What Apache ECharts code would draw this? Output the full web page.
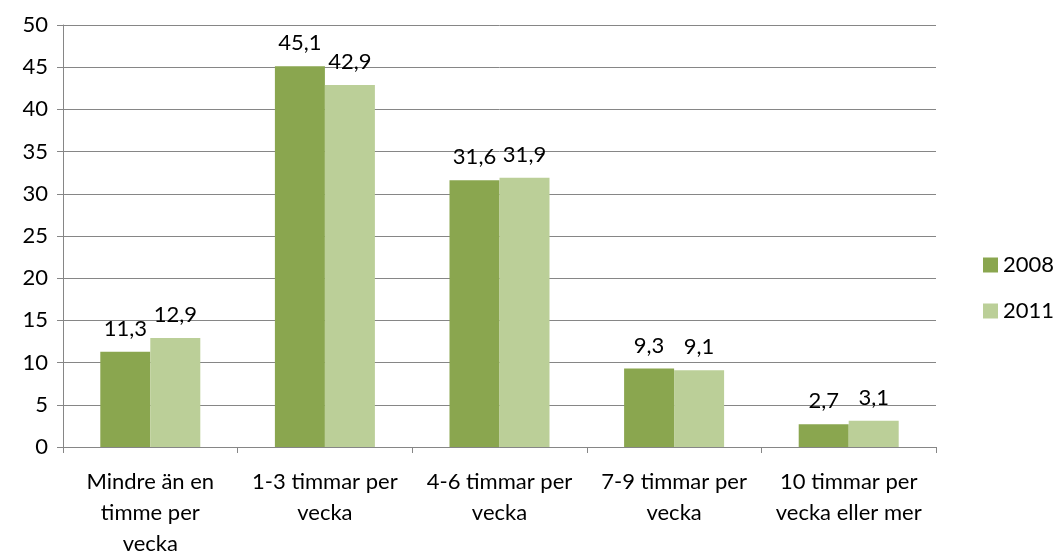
<!DOCTYPE html>
<html>
<head>
<meta charset="utf-8">
<script src="https://cdn.jsdelivr.net/npm/echarts@6/dist/echarts.min.js"></script>
<style>
  html, body { margin: 0; padding: 0; background: #fff; }
  #chart { width: 1054px; height: 553px; }
</style>
</head>
<body>
<div id="chart"></div>
<script>
// Timmar per vecka, andel (%) 2008 och 2011
const categories = [
  'Mindre än en\ntimme per\nvecka',
  '1-3 timmar per\nvecka',
  '4-6 timmar per\nvecka',
  '7-9 timmar per\nvecka',
  '10 timmar per\nvecka eller mer'
];
const values2008 = [11.3, 45.1, 31.6, 9.3, 2.7];
const values2011 = [12.9, 42.9, 31.9, 9.1, 3.1];
const seriesNames = ['2008', '2011'];

const fontFamily = 'Lato, Open Sans, sans-serif';
const fontSize = 22;
const fmt = p => String(p.value).replace('.', ',');

const chart = echarts.init(document.getElementById('chart'));
chart.setOption({
  animation: false,
  textStyle: { fontFamily: fontFamily },
  grid: { left: 63, right: 118, top: 25, bottom: 106, containLabel: false, outerBoundsMode: 'none' },
  legend: {
    orient: 'vertical',
    left: 978,
    top: 249,
    itemWidth: 15,
    itemHeight: 15,
    itemGap: 24,
    icon: 'rect',
    textStyle: { fontSize: fontSize, color: '#000', fontFamily: fontFamily },
    data: seriesNames
  },
  xAxis: {
    type: 'category',
    data: categories,
    axisLine: { lineStyle: { color: '#868686', width: 1 } },
    axisTick: { show: true, length: 6, lineStyle: { color: '#868686' } },
    axisLabel: {
      interval: 0,
      color: '#000',
      fontSize: fontSize,
      lineHeight: 31,
      margin: 19,
      fontFamily: fontFamily
    }
  },
  yAxis: {
    type: 'value',
    min: 0,
    max: 50,
    interval: 5,
    axisLine: { show: true, lineStyle: { color: '#868686' } },
    axisTick: { show: true, length: 6, lineStyle: { color: '#868686' } },
    splitLine: { lineStyle: { color: '#868686', width: 1 } },
    axisLabel: { color: '#000', fontSize: fontSize, margin: 15, fontFamily: fontFamily }
  },
  series: [
    {
      name: seriesNames[0],
      type: 'bar',
      data: values2008,
      barWidth: 50,
      barGap: '0%',
      itemStyle: { color: '#8AA64F' },
      label: { show: true, position: 'top', distance: 12, fontSize: fontSize, color: '#000', formatter: fmt, fontFamily: fontFamily }
    },
    {
      name: seriesNames[1],
      type: 'bar',
      data: values2011,
      barWidth: 50,
      barGap: '0%',
      itemStyle: { color: '#BBCF98' },
      label: { show: true, position: 'top', distance: 12, fontSize: fontSize, color: '#000', formatter: fmt, fontFamily: fontFamily }
    }
  ]
});
</script>
</body>
</html>
